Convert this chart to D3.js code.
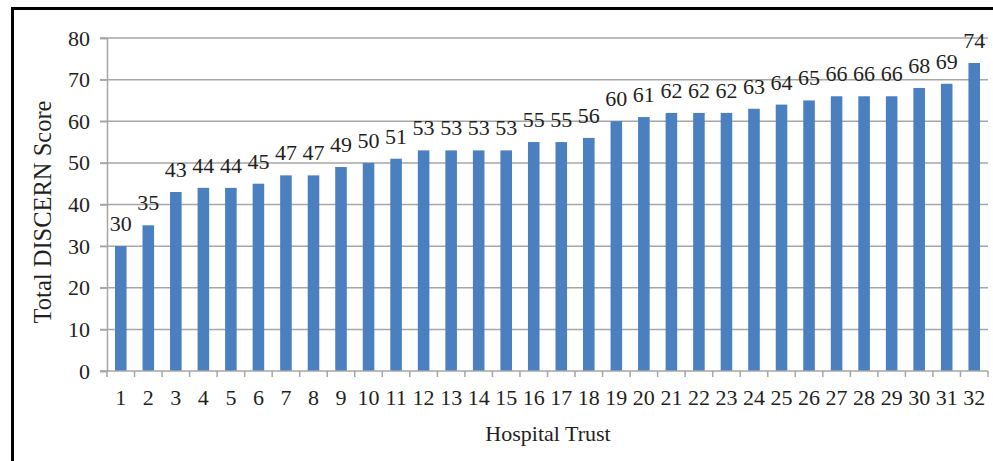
<!DOCTYPE html>
<html>
<head>
<meta charset="utf-8">
<script src="https://cdn.jsdelivr.net/npm/d3@7"></script>
<style>
html,body{margin:0;padding:0;background:#fff;}
svg{display:block;}
text{font-family:"Liberation Serif","Times New Roman",serif;fill:#231f20;}
</style>
</head>
<body>
<script>
const categories = ["1","2","3","4","5","6","7","8","9","10","11","12","13","14","15","16","17","18","19","20","21","22","23","24","25","26","27","28","29","30","31","32"];
const scores = [30,35,43,44,44,45,47,47,49,50,51,53,53,53,53,55,55,56,60,61,62,62,62,63,64,65,66,66,66,68,69,74];
const yTicks = [0,10,20,30,40,50,60,70,80];
const xTitle = "Hospital Trust";
const yTitle = "Total DISCERN Score";

const W = 993, H = 461;
const FS = 22;
const svg = d3.select("body").append("svg").attr("width", W).attr("height", H);

// frame
svg.append("rect").attr("x", 12.5).attr("y", 8.5).attr("width", 1000).attr("height", 500)
  .attr("fill", "none").attr("stroke", "#000").attr("stroke-width", 3);

const x = d3.scaleBand().domain(categories).range([107, 988]).paddingInner(0.58).paddingOuter(0.29);
const y = d3.scaleLinear().domain([0, 80]).range([371, 38]);

// gridlines
svg.append("g").selectAll("line").data(yTicks.filter(d => d > 0)).join("line")
  .attr("x1", 100).attr("x2", 988)
  .attr("y1", d => y(d)).attr("y2", d => y(d))
  .attr("stroke", "#a6a6a6").attr("stroke-width", 1.5);

// y axis
const yAxis = svg.append("g").attr("transform", "translate(107,0)")
  .call(d3.axisLeft(y).tickValues(yTicks).tickSize(7).tickPadding(10));
yAxis.select(".domain").attr("stroke", "#a6a6a6").attr("stroke-width", 1.5);
yAxis.selectAll(".tick line").attr("stroke", "#a6a6a6").attr("stroke-width", 1.5);
yAxis.selectAll(".tick text").attr("font-size", FS).attr("fill", "#231f20")
  .attr("font-family", "Liberation Serif, serif");

// bars
svg.append("g").selectAll("rect").data(scores).join("rect")
  .attr("x", (d, i) => x(categories[i]))
  .attr("width", x.bandwidth())
  .attr("y", d => y(d))
  .attr("height", d => y(0) - y(d))
  .attr("fill", "#4a7fc0");

// data labels
svg.append("g").selectAll("text").data(scores).join("text")
  .attr("x", (d, i) => x(categories[i]) + x.bandwidth() / 2)
  .attr("y", d => y(d) - 15)
  .attr("text-anchor", "middle")
  .attr("font-size", FS)
  .text(d => d);

// x axis line and ticks at band boundaries
const xg = svg.append("g");
xg.append("line").attr("x1", 100).attr("x2", 988).attr("y1", y(0)).attr("y2", y(0))
  .attr("stroke", "#a6a6a6").attr("stroke-width", 1.5);
const bounds = categories.map(c => x(c) - x.step() * x.paddingInner() / 2);
bounds.push(988);
xg.selectAll("line.t").data(bounds).join("line").attr("class", "t")
  .attr("x1", d => d).attr("x2", d => d)
  .attr("y1", y(0)).attr("y2", y(0) + 6)
  .attr("stroke", "#a6a6a6").attr("stroke-width", 1.5);
xg.selectAll("text").data(categories).join("text")
  .attr("x", d => x(d) + x.bandwidth() / 2)
  .attr("y", 405)
  .attr("text-anchor", "middle")
  .attr("font-size", FS)
  .text(d => d);

// axis titles
svg.append("text").attr("x", 548).attr("y", 441).attr("text-anchor", "middle")
  .attr("font-size", FS).text(xTitle);
svg.append("text").attr("transform", "translate(51,212) rotate(-90)")
  .attr("text-anchor", "middle").attr("font-size", 24.5).text(yTitle);
</script>
</body>
</html>
